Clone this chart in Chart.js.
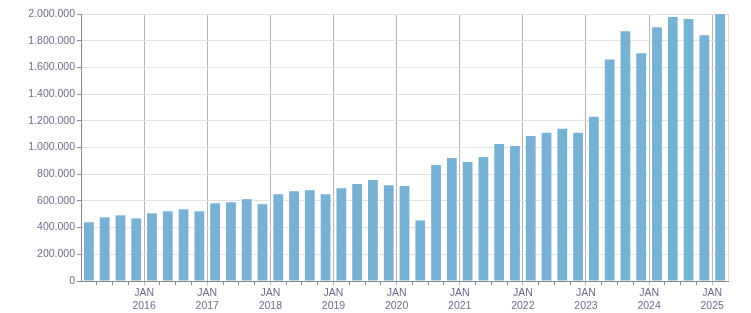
<!DOCTYPE html>
<html>
<head>
<meta charset="utf-8">
<script src="https://cdn.jsdelivr.net/npm/chart.js@4"></script>
<style>
  html, body { margin: 0; padding: 0; background: #fff; }
  #wrap { width: 751px; height: 313px; }
</style>
</head>
<body>
<div id="wrap"><canvas id="myChart" width="751" height="313"></canvas></div>
<script>
// quarters, 2015 Q1 .. 2025 Q1
var quarters = [
  "2015-Q1", "2015-Q2", "2015-Q3", "2015-Q4",
  "2016-Q1", "2016-Q2", "2016-Q3", "2016-Q4",
  "2017-Q1", "2017-Q2", "2017-Q3", "2017-Q4",
  "2018-Q1", "2018-Q2", "2018-Q3", "2018-Q4",
  "2019-Q1", "2019-Q2", "2019-Q3", "2019-Q4",
  "2020-Q1", "2020-Q2", "2020-Q3", "2020-Q4",
  "2021-Q1", "2021-Q2", "2021-Q3", "2021-Q4",
  "2022-Q1", "2022-Q2", "2022-Q3", "2022-Q4",
  "2023-Q1", "2023-Q2", "2023-Q3", "2023-Q4",
  "2024-Q1", "2024-Q2", "2024-Q3", "2024-Q4",
  "2025-Q1"
];

var values = [
  440000, 477000, 492000, 469000,
  507000, 522000, 537000, 522000,
  582000, 590000, 613000, 575000,
  650000, 673000, 680000, 650000,
  695000, 726000, 756000, 718000,
  711000, 454000, 869000, 922000,
  891000, 929000, 1027000, 1012000,
  1087000, 1110000, 1140000, 1110000,
  1231000, 1660000, 1871000, 1706000,
  1901000, 1977000, 1962000, 1841000,
  2000000
];

var yTicks = [0, 200000, 400000, 600000, 800000, 1000000, 1200000, 1400000, 1600000, 1800000, 2000000];

var labelColor = "#6c6c8e";
var axisColor = "#8a8a8a";

function formatNumber(v) {
  return String(v).replace(/\B(?=(\d{3})+(?!\d))/g, ".");
}

function isYearStart(i) {
  return i > 0 && i < quarters.length && quarters[i].slice(-2) === "Q1";
}

var ctx = document.getElementById("myChart").getContext("2d");
var chart = new Chart(ctx, {
  type: "bar",
  data: {
    labels: quarters,
    datasets: [
      {
        data: values,
        backgroundColor: "#77b1d3",
        borderWidth: 0,
        categoryPercentage: 1,
        barPercentage: 0.62,
      },
    ],
  },
  options: {
    responsive: false,
    animation: false,
    layout: { padding: { top: 14, right: 23, left: 0, bottom: 0 } },
    plugins: { legend: { display: false }, tooltip: { enabled: false } },
    scales: {
      x: {
        offset: true,
        border: { color: axisColor, width: 1 },
        grid: {
          offset: true,
          tickLength: 4,
          lineWidth: 1,
          color: function (c) {
            if (c.index === undefined) return "#dadada";
            return isYearStart(c.index) ? "#b4b4b4" : "rgba(0,0,0,0)";
          },
          tickColor: function (c) {
            if (c.index === undefined || c.index === 0) return "rgba(0,0,0,0)";
            return isYearStart(c.index) ? "#b4b4b4" : axisColor;
          },
        },
        ticks: {
          autoSkip: false,
          maxRotation: 0,
          minRotation: 0,
          padding: 2,
          labelOffset: -7.9,
          color: labelColor,
          font: { family: "Liberation Sans", size: 10.5 },
          callback: function (val, i) {
            if (!isYearStart(i)) return "";
            return ["JAN", quarters[i].slice(0, 4)];
          },
        },
        afterFit: function (scale) {
          scale.height = 32;
        },
      },
      y: {
        min: 0,
        max: 2000000,
        border: { color: axisColor, width: 1 },
        grid: {
          color: "#e2e2e2",
          tickColor: axisColor,
          tickLength: 4,
        },
        afterBuildTicks: function (scale) {
          scale.ticks = yTicks.map(function (v) { return { value: v }; });
        },
        ticks: {
          padding: 2,
          color: labelColor,
          font: { family: "Liberation Sans", size: 10.5 },
          callback: function (v) {
            return formatNumber(v);
          },
        },
        afterFit: function (scale) {
          scale.width = 81;
        },
      },
    },
  },
});
</script>
</body>
</html>
